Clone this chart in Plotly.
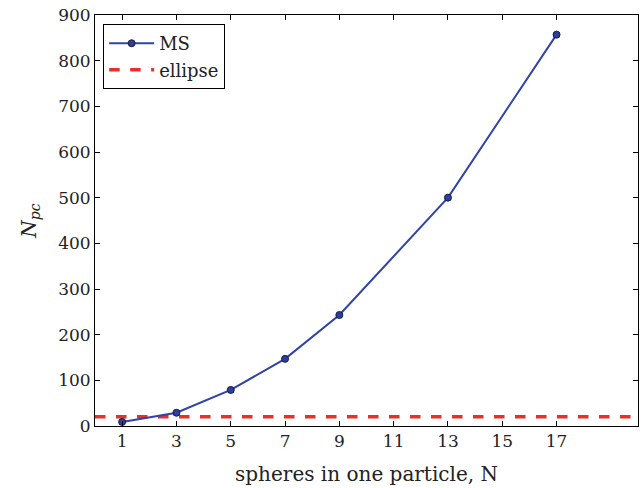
import plotly.graph_objects as go

spheres = [1, 3, 5, 7, 9, 13, 17]
ms_values = [9, 29, 79, 147, 243, 500, 857]
ellipse_x = [0, 20]
ellipse_values = [20, 20]
x_ticks = [1, 3, 5, 7, 9, 11, 13, 15, 17]

font = "DejaVu Serif"
fig = go.Figure()
fig.add_trace(go.Scatter(x=ellipse_x, y=ellipse_values, mode="lines", name="ellipse",
                         line=dict(color="#e8302a", width=3.5, dash="dash")))
fig.add_trace(go.Scatter(x=spheres, y=ms_values, mode="lines+markers", name="MS",
                         line=dict(color="#2e44a8", width=2),
                         marker=dict(size=7, color="#2b3f9e", line=dict(color="#1a1a3a", width=1))))

axis_common = dict(showgrid=False, zeroline=False, showline=True, linecolor="black", linewidth=1,
                   mirror="allticks", ticks="inside", ticklen=5, tickcolor="black", automargin=False,
                   tickfont=dict(family=font, size=17, color="#222"))
fig.update_layout(
    width=643, height=488,
    margin=dict(l=95, r=5, t=15, b=62),
    plot_bgcolor="white", paper_bgcolor="white",
    xaxis=dict(range=[0, 20], tickvals=x_ticks,
               title=dict(text="spheres in one particle, N", font=dict(family=font, size=20, color="#222"), standoff=16),
               **axis_common),
    yaxis=dict(range=[0, 900], tickvals=list(range(0, 901, 100)),
               title=dict(text="<i>N</i><sub><i>pc</i></sub>", font=dict(family=font, size=20, color="#222"), standoff=16),
               **axis_common),
    legend=dict(x=0.015, y=0.978, xanchor="left", yanchor="top", traceorder="reversed",
                bgcolor="white", bordercolor="black", borderwidth=1, itemwidth=45,
                font=dict(family=font, size=18, color="#222")),
    showlegend=True,
)
fig.write_html("out.html", config={"displayModeBar": False},
               post_script="document.body.style.margin='0';")
